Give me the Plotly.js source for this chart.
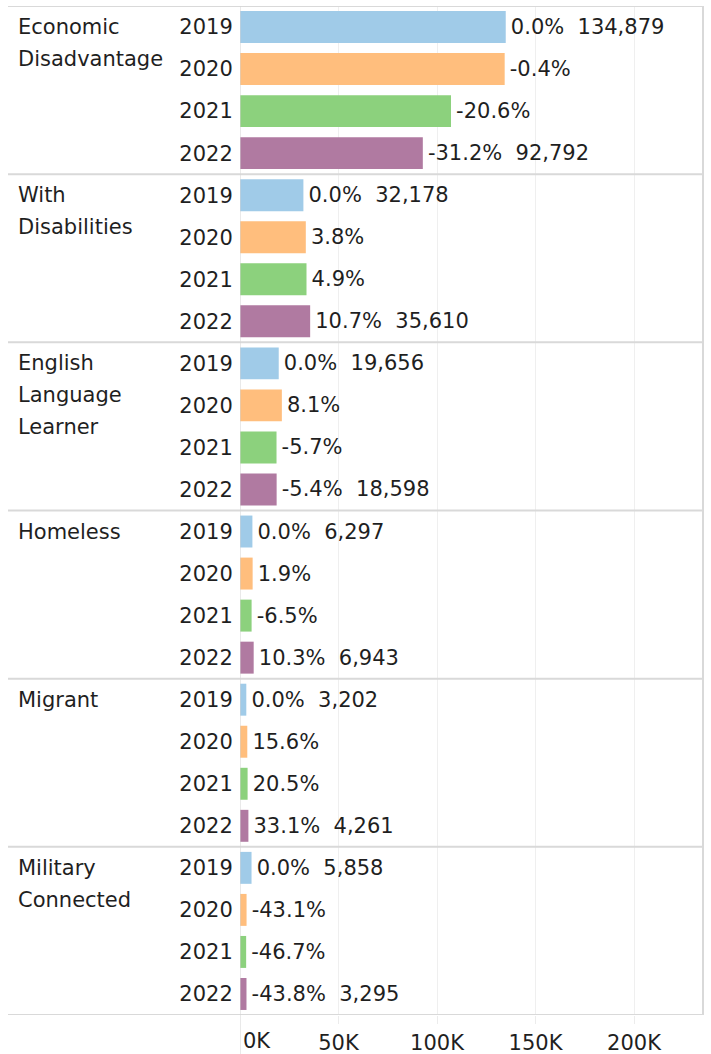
<!DOCTYPE html>
<html>
<head>
<meta charset="utf-8">
<script src="https://cdn.plot.ly/plotly-3.0.1.min.js"></script>
<style>html,body{margin:0;padding:0;background:#fff;}#chart{width:711px;height:1054px;}</style>
</head>
<body>
<div id="chart"></div>
<script>
// ---- data ----
const groups = ['Economic<br>Disadvantage', 'With<br>Disabilities', 'English<br>Language<br>Learner', 'Homeless', 'Migrant', 'Military<br>Connected'];
const years = ['2019', '2020', '2021', '2022'];
const v2019 = [134879, 32178, 19656, 6297, 3202, 5858];
const v2020 = [134339, 33401, 21248, 6417, 3702, 3333];
const v2021 = [107094, 33755, 18536, 5888, 3858, 3122];
const v2022 = [92792, 35610, 18598, 6943, 4261, 3295];
const pct2019 = ['0.0%', '0.0%', '0.0%', '0.0%', '0.0%', '0.0%'];
const pct2020 = ['-0.4%', '3.8%', '8.1%', '1.9%', '15.6%', '-43.1%'];
const pct2021 = ['-20.6%', '4.9%', '-5.7%', '-6.5%', '20.5%', '-46.7%'];
const pct2022 = ['-31.2%', '10.7%', '-5.4%', '10.3%', '33.1%', '-43.8%'];
const showValue = [true, false, false, true];
const colors = ['#A0CBE8', '#FFBE7D', '#8CD17D', '#B07AA1'];
const xTicks = [50000, 100000, 150000, 200000];
const xTickText = ['50K', '100K', '150K', '200K'];

// ---- build ----
const FONT = 'DejaVu Sans, Verdana, sans-serif';
const TXT = '#1f1f1f';
const W = 711, H = 1054, L = 240, R = 8, T = 6, B = 39;
const plotW = W - L - R, plotH = H - T - B;
const nY = years.length;
const vals = [v2019, v2020, v2021, v2022];
const pcts = [pct2019, pct2020, pct2021, pct2022];
const fmt = n => n.toLocaleString('en-US');

const traces = years.map((yr, yi) => ({
  type: 'bar',
  orientation: 'h',
  x: vals[yi],
  y: groups.map((g, gi) => gi * nY + yi),
  width: 0.76,
  marker: {color: colors[yi], line: {width: 0}},
  text: groups.map((g, gi) => '\u200A' + (showValue[yi] ? pcts[yi][gi] + '\u00A0\u00A0' + fmt(vals[yi][gi]) : pcts[yi][gi])),
  textposition: 'outside',
  constraintext: 'none',
  cliponaxis: false,
  textfont: {family: FONT, size: 21, color: TXT},
  hoverinfo: 'skip',
  showlegend: false
}));

const tickvals = [], ticktext = [];
groups.forEach((g, gi) => years.forEach((yr, yi) => { tickvals.push(gi * nY + yi); ticktext.push(yr); }));

const px2paperX = px => (px - L) / plotW;
const shapes = [];
for (let gi = 0; gi <= groups.length; gi++) {
  shapes.push({type: 'line', xref: 'paper', yref: 'y', x0: px2paperX(8), x1: 1, y0: gi * nY - 0.5, y1: gi * nY - 0.5,
    line: {color: '#d9d9d9', width: 2}});
}
shapes.push({type: 'line', xref: 'x', yref: 'paper', x0: 0, x1: 0, y0: 1, y1: -(B / plotH), line: {color: '#d4d4d4', width: 1}});
shapes.push({type: 'line', xref: 'paper', yref: 'paper', x0: 1, x1: 1, y0: 1, y1: 0, line: {color: '#d9d9d9', width: 2}});

const annotations = [];
groups.forEach((g, gi) => {
  g.split('<br>').forEach((line, li) => {
    annotations.push({xref: 'paper', yref: 'y', x: px2paperX(16), y: gi * nY, yshift: -32 * li,
      xanchor: 'left', yanchor: 'middle', text: line, showarrow: false,
      font: {family: FONT, size: 21, color: TXT}});
  });
});
annotations.push({xref: 'x', yref: 'paper', x: 0, y: 0, xshift: 1, yshift: -12, xanchor: 'left', yanchor: 'top',
  text: '0K', showarrow: false, font: {family: FONT, size: 21, color: TXT}});

const layout = {
  width: W, height: H,
  margin: {l: L, r: R, t: T, b: B, pad: 0},
  paper_bgcolor: '#fff', plot_bgcolor: '#fff',
  barmode: 'overlay',
  font: {family: FONT, size: 21, color: TXT},
  xaxis: {range: [0, 235000], tickvals: xTicks, ticktext: xTickText, showgrid: true, gridcolor: '#efefef', gridwidth: 1,
    zeroline: false, showline: false, ticks: 'outside', ticklen: 8, tickcolor: '#ececec', tickwidth: 1,
    ticklabelstandoff: 1, tickfont: {family: FONT, size: 21, color: TXT}, fixedrange: true},
  yaxis: {range: [groups.length * nY - 0.5, -0.5], tickvals: tickvals, ticktext: ticktext, showgrid: false, zeroline: false,
    showline: false, ticks: 'outside', ticklen: 2, tickcolor: 'rgba(0,0,0,0)', tickfont: {family: FONT, size: 21, color: TXT}, fixedrange: true},
  shapes: shapes,
  annotations: annotations
};

Plotly.newPlot('chart', traces, layout, {displayModeBar: false, staticPlot: true});
</script>
</body>
</html>
